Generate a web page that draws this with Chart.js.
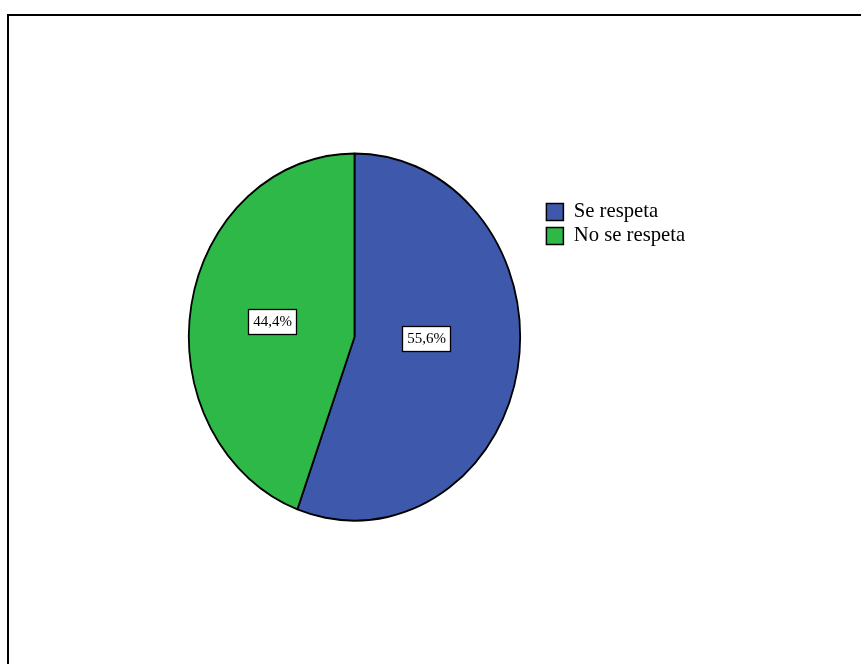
<!DOCTYPE html>
<html>
<head>
<meta charset="utf-8">
<script src="https://cdn.jsdelivr.net/npm/chart.js@4.4.1/dist/chart.umd.min.js"></script>
<style>
  html, body { margin: 0; padding: 0; background: #ffffff; }
  #wrap { position: relative; width: 861px; height: 664px; overflow: hidden; }
  #frame { position: absolute; left: 7px; top: 14px; width: 900px; height: 700px;
           border-left: 2px solid #000; border-top: 2px solid #000; box-sizing: border-box; }
  canvas { position: absolute; left: 0; top: 0; }
</style>
</head>
<body>
<div id="wrap">
  <div id="frame"></div>
  <canvas id="c" width="861" height="664"></canvas>
</div>
<script>
const categories = ["Se respeta", "No se respeta"];
const percentages = [55.6, 44.4];
const sliceColors = ["#3e58ac", "#2eb848"];

const ELLIPSE_Y = 184.5 / 166.5;
// label anchor offsets, in units of the horizontal radius
const LABEL_OFFSETS = [[0.43, 0.006], [-0.495, -0.087]];

const ellipsePlugin = {
  id: 'ellipse',
  beforeDatasetsDraw(chart) {
    const a = chart.chartArea;
    const cx = (a.left + a.right) / 2, cy = (a.top + a.bottom) / 2;
    const ctx = chart.ctx;
    ctx.save();
    ctx.translate(cx, cy);
    ctx.scale(1, ELLIPSE_Y);
    ctx.translate(-cx, -cy);
  },
  afterDatasetsDraw(chart) {
    const ctx = chart.ctx;
    ctx.restore();
    const a = chart.chartArea;
    const cx = (a.left + a.right) / 2, cy = (a.top + a.bottom) / 2;
    const meta = chart.getDatasetMeta(0);
    ctx.save();
    ctx.font = '15px "Liberation Serif", "Times New Roman", serif';
    ctx.textAlign = 'center';
    ctx.textBaseline = 'middle';
    meta.data.forEach((arc, i) => {
      const r = arc.outerRadius;
      const x = cx + LABEL_OFFSETS[i][0] * r;
      const y = cy + LABEL_OFFSETS[i][1] * r * ELLIPSE_Y;
      const txt = percentages[i].toFixed(1).replace('.', ',') + '%';
      const w = 48, h = 25;
      ctx.fillStyle = '#ffffff';
      ctx.fillRect(Math.round(x - w / 2) + 0.5, Math.round(y - h / 2) + 0.5, w, h);
      ctx.strokeStyle = '#000';
      ctx.lineWidth = 1.3;
      ctx.strokeRect(Math.round(x - w / 2) + 0.5, Math.round(y - h / 2) + 0.5, w, h);
      ctx.fillStyle = '#000';
      ctx.fillText(txt, Math.round(x) + 0.5, Math.round(y) + 1.5);
    });
    ctx.restore();
  }
};

const legendPlacer = {
  id: 'legendPlacer',
  afterLayout(chart) {
    const lg = chart.legend;
    if (!lg) return;
    const w = lg.width;
    lg.left = 543;
    lg.right = 543 + w;
    lg.top = 198.2;
    lg.bottom = 600;
  }
};

new Chart(document.getElementById('c'), {
  type: 'pie',
  data: {
    labels: categories,
    datasets: [{
      data: percentages,
      backgroundColor: sliceColors,
      borderColor: '#000',
      borderWidth: 1.8
    }]
  },
  options: {
    responsive: false,
    animation: false,
    radius: 165.7,
    layout: { padding: { left: 188, right: 340, top: 170.5, bottom: 160.5 } },
    plugins: {
      tooltip: { enabled: false },
      legend: {
        display: true,
        position: 'chartArea',
        align: 'start',
        labels: {
          boxWidth: 17,
          boxHeight: 17,
          padding: 3.4,
          color: '#000',
          font: { family: '"Liberation Serif", "Times New Roman", serif', size: 20.7 },
          generateLabels(chart) {
            const items = Chart.controllers.pie.overrides.plugins.legend.labels.generateLabels(chart);
            return items.map(it => Object.assign(it, { lineWidth: 1.5, strokeStyle: '#000' }));
          }
        }
      }
    }
  },
  plugins: [ellipsePlugin, legendPlacer]
});
</script>
</body>
</html>
